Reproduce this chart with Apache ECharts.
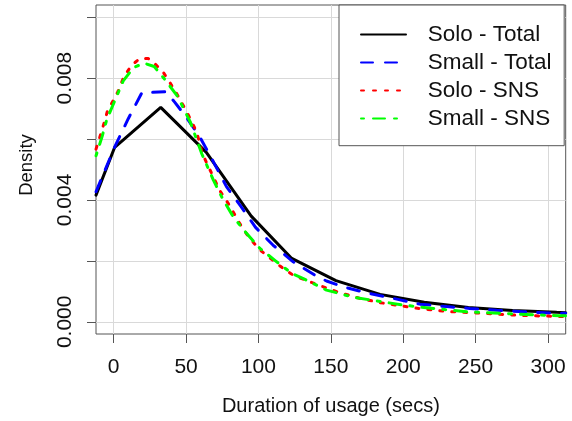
<!DOCTYPE html>
<html><head><meta charset="utf-8">
<script src="https://cdn.jsdelivr.net/npm/echarts@6/dist/echarts.min.js"></script>
<style>html,body{margin:0;padding:0;background:#fff}#c{width:572px;height:421px}</style>
</head><body><div id="c"></div>
<script>
// Series names (legend)
const seriesNames = ['Solo - Total', 'Small - Total', 'Solo - SNS', 'Small - SNS'];
// Density curves: [duration (secs), density]
const soloTotal = [[-12.2,0.00416],[0.7,0.00573],[32.5,0.00704],[64,0.00556],[95,0.00347],[123,0.00208],[153.5,0.00135],[184,0.00090],[214.5,0.00064],[245,0.00047],[275.5,0.00037],[306,0.00031],[312.2,0.00030]];
const smallTotal = [[-12.2,0.00427],[1,0.00577],[10,0.00666],[19.5,0.00752],[36,0.00755],[42,0.00722],[50,0.00673],[59.6,0.00606],[68.8,0.00526],[78,0.00443],[88,0.00378],[98,0.00310],[110,0.00252],[124,0.00197],[139,0.00153],[147,0.00134],[158.6,0.00115],[174.7,0.00095],[193,0.00077],[211.5,0.00058],[230,0.00050],[246,0.00044],[264.5,0.00038],[283,0.00033],[301,0.00029],[312.2,0.00028]];
const soloSNS = [[-12.2,0.00567],[-8,0.0063],[-4.4,0.0069],[3,0.00756],[7.1,0.00805],[12.6,0.00843],[18,0.00864],[24,0.00864],[28,0.00849],[34,0.00821],[42.5,0.00758],[50.4,0.00690],[57.3,0.00624],[61.2,0.00553],[64.2,0.00522],[73.4,0.00430],[80.3,0.00380],[87,0.00323],[93,0.00280],[101,0.00236],[114.9,0.00183],[124,0.00153],[135.6,0.00131],[154,0.00099],[170,0.00077],[184,0.00063],[207,0.00046],[230,0.00034],[255,0.00028],[280.6,0.00021],[306,0.00018],[312.2,0.00017]];
const smallSNS = [[-12.2,0.00545],[-8,0.00608],[-4.8,0.00663],[-1,0.00706],[6.6,0.00791],[13.8,0.00835],[21,0.00849],[28,0.00838],[35.6,0.00794],[44.2,0.00740],[53,0.00655],[61,0.00550],[68.8,0.00466],[75.7,0.00400],[82.6,0.00345],[89.5,0.00303],[101,0.00241],[112.6,0.00197],[123,0.00159],[131,0.00142],[147,0.00104],[165.5,0.00081],[177,0.00072],[200,0.00055],[220.7,0.00044],[243.8,0.00033],[266.8,0.00028],[289.8,0.00023],[308,0.00020],[312.2,0.00020]];
// Axis ticks and labels
const xTicks = [0, 50, 100, 150, 200, 250, 300];
const yTicks = [0, 0.002, 0.004, 0.006, 0.008, 0.010];
const yLabelValues = [0, 0.004, 0.008];

const FONT = '"Liberation Sans", Arial, sans-serif';
const lineStyles = [
  {color: '#000000', type: 'solid'},
  {color: '#0000FF', type: [12, 12]},
  {color: '#FF0000', type: [3, 9]},
  {color: '#00FF00', type: [3, 9, 12, 9]}
];
const allData = [soloTotal, smallTotal, soloSNS, smallSNS];

const chart = echarts.init(document.getElementById('c'), null, {renderer: 'canvas'});
chart.setOption({
  animation: false,
  backgroundColor: '#ffffff',
  grid: {left: 96, top: 5, right: 6.3, bottom: 87, show: true, borderColor: '#555555', borderWidth: 1, backgroundColor: 'transparent'},
  xAxis: {
    type: 'value', min: -12.2, max: 312.2,
    name: 'Duration of usage (secs)', nameLocation: 'middle', nameGap: 62,
    nameTextStyle: {fontFamily: FONT, fontSize: 20, color: '#111'},
    axisLine: {show: false, onZero: false},
    axisTick: {show: true, inside: false, length: 9, customValues: xTicks, lineStyle: {color: '#555555', width: 1}},
    axisLabel: {customValues: xTicks, margin: 22.5, fontFamily: FONT, fontSize: 21, color: '#111'},
    splitLine: {show: true, lineStyle: {color: '#d9d9d9', width: 1}}
  },
  yAxis: {
    type: 'value', min: -0.0004, max: 0.0104,
    name: 'Density', nameLocation: 'middle', nameGap: 60,
    nameTextStyle: {fontFamily: FONT, fontSize: 18.5, color: '#111', padding: [0, 0, 0, 9]},
    axisLine: {show: false, onZero: false},
    axisTick: {show: true, inside: false, length: 9, customValues: yTicks, lineStyle: {color: '#555555', width: 1}},
    axisLabel: {customValues: yLabelValues, rotate: 90, margin: 20, fontFamily: FONT, fontSize: 21, color: '#111',
      formatter: v => v.toFixed(3)},
    splitLine: {show: true, lineStyle: {color: '#d9d9d9', width: 1}}
  },
  legend: {
    data: seriesNames, orient: 'vertical', left: 339, top: 5,
    padding: [15.6, 12.7, 13.1, 21], itemGap: 0, itemWidth: 45, itemHeight: 14,
    backgroundColor: '#ffffff', borderColor: '#555555', borderWidth: 1, borderRadius: 0,
    itemStyle: {color: 'transparent', borderColor: 'transparent', borderWidth: 0, opacity: 0},
    formatter: name => '{g| }' + name,
    textStyle: {fontFamily: FONT, fontSize: 22.5, color: '#111', lineHeight: 28,
      rich: {g: {width: 16.7, lineHeight: 28}}}
  },
  series: seriesNames.map((n, i) => ({
    name: n, type: 'line', data: allData[i], symbol: 'none', showSymbol: false, smooth: false, clip: true,
    lineStyle: {color: lineStyles[i].color, type: lineStyles[i].type, width: 3, cap: 'round'},
    itemStyle: {color: lineStyles[i].color}
  }))
});
</script></body></html>
